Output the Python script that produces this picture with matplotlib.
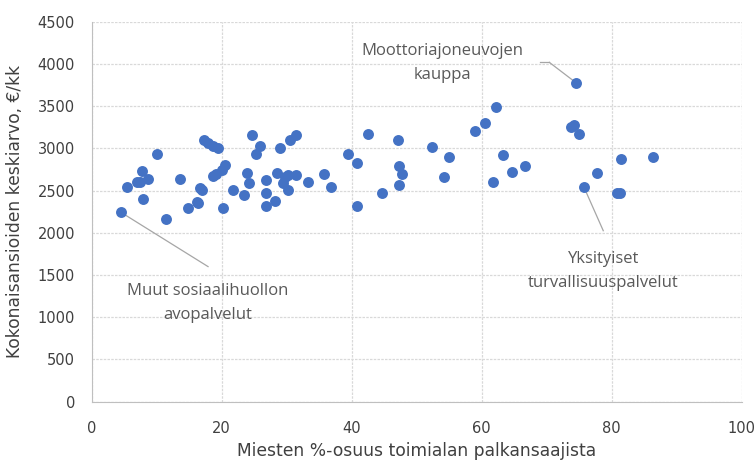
import matplotlib
matplotlib.use("Agg")
import matplotlib.pyplot as plt

# miesten osuus (%) ja kokonaisansioiden keskiarvo (€/kk)
men_share = [4.5, 5.5, 6.9, 7.4, 7.7, 7.9, 8.7, 10.0, 11.4, 13.6, 14.8, 16.2, 16.4,
             16.6, 16.9, 17.3, 17.9, 18.7, 19.5, 18.6, 19.1, 20.0, 20.5, 20.2,
             21.8, 23.5, 23.9, 24.2, 24.7, 25.2, 25.9, 26.8, 26.8, 26.8, 28.2,
             28.5, 28.9, 29.5, 29.7, 30.2, 30.2, 30.5, 31.4, 31.4, 33.2, 35.7,
             36.8, 39.5, 40.8, 40.8, 42.5, 44.6, 47.1, 47.2, 47.3, 47.7, 52.3,
             54.2, 55.0, 59.0, 60.5, 62.2, 61.7, 63.2, 64.6, 66.6, 74.5, 73.8,
             74.2, 74.9, 75.7, 77.7, 80.8, 81.3, 81.4, 86.4]
earnings = [2243, 2546, 2605, 2605, 2736, 2397, 2634, 2930, 2167, 2637, 2297, 2369, 2357,
            2527, 2507, 3099, 3060, 3028, 3000, 2673, 2693, 2744, 2803, 2297,
            2507, 2448, 2705, 2586, 3158, 2930, 3028, 2626, 2475, 2318, 2380,
            2705, 3000, 2586, 2665, 2685, 2507, 3099, 3158, 2685, 2605, 2697,
            2546, 2930, 2830, 2318, 3170, 2475, 3099, 2566, 2795, 2697, 3020,
            2657, 2901, 3206, 3304, 3494, 2605, 2921, 2716, 2791, 3778, 3257,
            3277, 3170, 2546, 2712, 2468, 2468, 2870, 2901]

labels = ["Muut sosiaalihuollon\navopalvelut",
          "Moottoriajoneuvojen\nkauppa",
          "Yksityiset\nturvallisuuspalvelut"]
label_points = [(4.5, 2243), (74.5, 3778), (75.7, 2546)]
label_text_pos = [(17.9, 1170), (53.9, 4015), (78.7, 1545)]
label_line_end = [(17.9, 1600), (70.4, 4019), (78.7, 2025)]

x_ticks = [0, 20, 40, 60, 80, 100]
y_ticks = list(range(0, 4501, 500))

fig = plt.figure(figsize=(7.56, 4.65), dpi=100)
ax = fig.add_axes([0.1213, 0.1361, 0.8598, 0.8172])

ax.scatter(men_share, earnings, s=62, color="#4472C4", zorder=3, linewidths=0)

ax.set_xlim(0, 100)
ax.set_ylim(0, 4500)
ax.set_xticks(x_ticks)
ax.set_yticks(y_ticks)
ax.grid(True, color="#d9d9d9", linestyle=(0, (2, 1)), linewidth=0.9, zorder=0)
ax.tick_params(length=0, labelsize=10.5, colors="#404040")
ax.tick_params(axis="x", pad=14)
ax.tick_params(axis="y", pad=12)
for s in ["top", "right"]:
    ax.spines[s].set_visible(False)
for s in ["left", "bottom"]:
    ax.spines[s].set_color("#bfbfbf")

for lab, p, t, e in zip(labels, label_points, label_text_pos, label_line_end):
    ax.plot([p[0], e[0]], [p[1], e[1]], color="#a6a6a6", linewidth=0.9, zorder=2)
    ax.text(t[0], t[1], lab, ha="center", va="center", fontsize=12,
            color="#595959", linespacing=1.65, family="Open Sans")
# lyhyt vaakaviiva moottoriajoneuvojen kaupan selitteessä
ax.plot([68.9, 70.4], [4019, 4019], color="#a6a6a6", linewidth=0.9, zorder=2)

ax.set_xlabel("Miesten %-osuus toimialan palkansaajista", fontsize=12.3,
              color="#404040", labelpad=4)
ax.set_ylabel("Kokonaisansioiden keskiarvo, €/kk", fontsize=12.3,
              color="#404040", labelpad=10)

fig.savefig("out.png", dpi=100)
